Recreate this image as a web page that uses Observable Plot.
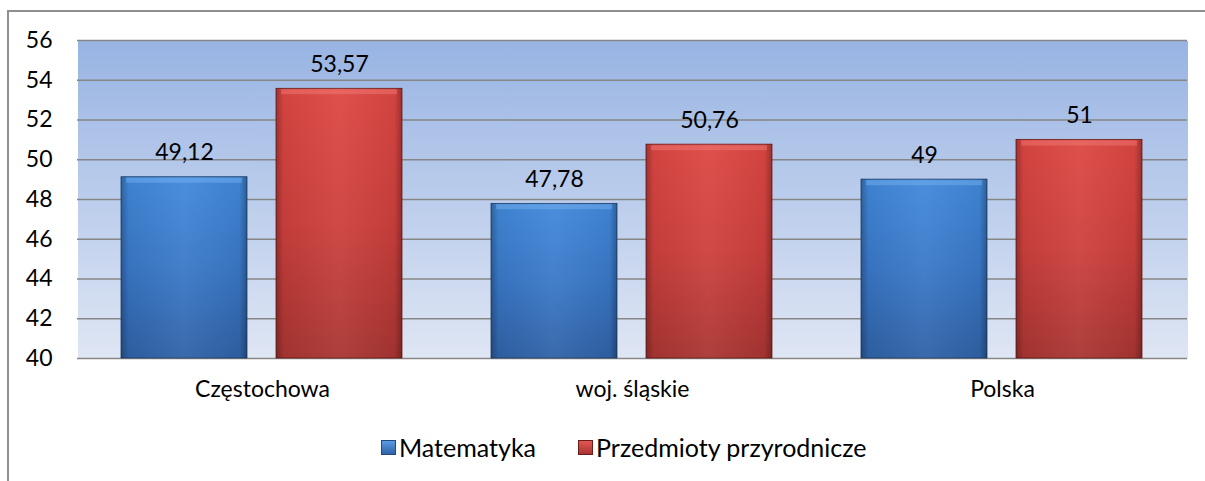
<!DOCTYPE html>
<html><head><meta charset="utf-8">
<script src="https://cdn.jsdelivr.net/npm/d3@7"></script>
<script src="https://cdn.jsdelivr.net/npm/@observablehq/plot@0.6"></script>
<style>
html,body{margin:0;background:#fff;font-family:Lato,"Noto Sans",sans-serif;overflow:hidden;}
#wrap{position:relative;width:1205px;height:481px;overflow:hidden;background:#fff;}
#hline{position:absolute;left:7px;top:10px;width:1198px;height:2px;background:#8f8f8f;}
#vline{position:absolute;left:7px;top:10px;width:2px;height:471px;background:#8f8f8f;}
#chart{position:absolute;left:0;top:0;}
#legend{position:absolute;top:432px;left:381px;display:flex;align-items:center;font-size:25px;color:#000;white-space:nowrap;}
.sw{display:inline-block;width:15px;height:15px;margin-right:3px;box-sizing:border-box;}
.item{display:flex;align-items:center;margin-right:42px;}
</style></head>
<body>
<div id="wrap"><div id="hline"></div><div id="vline"></div><div id="chart"></div><div id="legend"></div></div>
<script>
const categories = ["Częstochowa", "woj. śląskie", "Polska"];
const series = ["Matematyka", "Przedmioty przyrodnicze"];
const matematyka = [49.12, 47.78, 49];
const przyrodnicze = [53.57, 50.76, 51];
const yTicks = [40, 42, 44, 46, 48, 50, 52, 54, 56];

const seriesValues = [matematyka, przyrodnicze];
const data = [];
categories.forEach((c, i) => series.forEach((s, j) => data.push({cat: c, series: s, value: seriesValues[j][i]})));

const fillUrl = {"Matematyka": "url(#gBlue)", "Przedmioty przyrodnicze": "url(#gRed)"};
const strokeC = {"Matematyka": "#1e3f6b", "Przedmioty przyrodnicze": "#6a1c1a"};
const bevelC = {"Matematyka": "#7ab4f2", "Przedmioty przyrodnicze": "#f47e7a"};
const fmt = v => String(v).replace(".", ",");

const svg = Plot.plot({
  width: 1205,
  height: 420,
  marginTop: 40,
  marginBottom: 62,
  marginLeft: 77,
  marginRight: 18,
  style: {fontFamily: "Lato, 'Noto Sans', sans-serif", fontSize: "23px", color: "#000", background: "transparent"},
  fx: {domain: categories, padding: 0},
  x: {domain: series, paddingInner: 0.187, paddingOuter: 0.287, axis: null},
  y: {domain: [40, 56], axis: null},
  marks: [
    Plot.frame({fill: "url(#gBg)", stroke: null, shapeRendering: "crispEdges"}),
    Plot.ruleY(yTicks, {stroke: "#868686", strokeWidth: 1.6}),
    Plot.barY(data, {fx: "cat", x: "series", y1: 40, y2: "value", fill: d => fillUrl[d.series], stroke: d => strokeC[d.series], strokeWidth: 0.8}),
    Plot.barY(data, {fx: "cat", x: "series", y1: 40, y2: "value", fill: "url(#gEdge)"}),
    Plot.tickY(data, {fx: "cat", x: "series", y: "value", stroke: d => bevelC[d.series], strokeWidth: 5, strokeOpacity: 0.45, dy: 3, insetLeft: 5, insetRight: 5}),
    Plot.text(data, {fx: "cat", x: "series", y: "value", text: d => fmt(d.value), dy: -17, lineAnchor: "bottom", fontSize: 23, fill: "#000"}),
    Plot.axisY(yTicks, {tickSize: 0, tickPadding: 25, fontSize: 23, label: null, tickFormat: d => String(d)}),
    Plot.axisFx({anchor: "bottom", tickSize: 0, tickPadding: 22, fontSize: 23, label: null})
  ]
});

const defs = d3.select(svg).insert("defs", ":first-child");
function lin(id, stops, horiz) {
  const g = defs.append("linearGradient").attr("id", id).attr("x1", 0).attr("y1", 0).attr("x2", horiz ? 1 : 0).attr("y2", horiz ? 0 : 1);
  stops.forEach(([o, c, a]) => g.append("stop").attr("offset", o).attr("stop-color", c).attr("stop-opacity", a == null ? 1 : a));
}
lin("gBg", [[0, "#98b4e3"], [1, "#dfe6f4"]]);
lin("gBlue", [[0, "#4189da"], [0.5, "#3a78c8"], [1, "#2f62a6"]]);
lin("gRed", [[0, "#dd4743"], [0.5, "#cd403d"], [1, "#a83532"]]);
lin("gEdge", [[0, "#000", 0.28], [0.06, "#000", 0.05], [0.5, "#fff", 0.05], [0.94, "#000", 0.05], [1, "#000", 0.3]], true);
document.getElementById("chart").appendChild(svg);

const legend = document.getElementById("legend");
series.forEach((s, j) => {
  const it = document.createElement("div");
  it.className = "item";
  const sw = document.createElement("span");
  sw.className = "sw";
  sw.style.background = j === 0 ? "linear-gradient(#5a9be6,#2f62a6)" : "linear-gradient(#e25652,#a83532)";
  sw.style.border = "1px solid " + (j === 0 ? "#24497a" : "#6a1c1a");
  it.appendChild(sw);
  it.appendChild(document.createTextNode(s));
  legend.appendChild(it);
});
</script>
</body></html>
